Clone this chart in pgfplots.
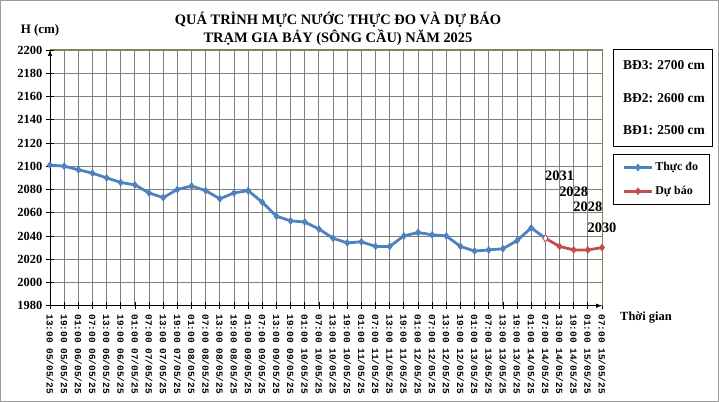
\documentclass[border=0pt]{standalone}
\usepackage{fontspec}
\setmainfont{Liberation Serif}
\setmonofont{Liberation Mono}
\usepackage{pgfplots}
\pgfplotsset{compat=1.18}
\definecolor{bl}{RGB}{79,129,189}
\definecolor{rd}{RGB}{192,80,77}
\definecolor{ol}{RGB}{140,128,80}
\definecolor{gr}{RGB}{128,128,128}
\begin{document}
\begin{tikzpicture}
\draw[gr!80, line width=1bp] (0.5bp,0.5bp) rectangle (718.5bp,401.5bp);
\begin{axis}[
  at={(50bp,96.3bp)}, anchor=south west,
  scale only axis, width=552bp, height=255.7bp,
  xmin=0, xmax=39, ymin=1980, ymax=2200,
  axis lines=left,
  axis line style={line width=1bp, -latex},
  grid=major,
  major grid style={gr, line width=0.9bp},
  tick align=center,
  major tick length=7bp,
  tick style={black, line width=0.8bp},
  xtick={0,...,39},
  ytick={1980,2000,...,2200},
  /pgf/number format/assume math mode=true,
  /pgf/number format/set thousands separator={},
  yticklabel style={font=\bfseries\fontsize{12.5}{12}\selectfont, inner xsep=4bp},
  xticklabel style={rotate=-90, anchor=west, font=\ttfamily\bfseries\fontsize{9.5}{10}\selectfont, inner xsep=5bp},
  xticklabels={13:00 05/05/25,19:00 05/05/25,01:00 06/05/25,07:00 06/05/25,13:00 06/05/25,19:00 06/05/25,01:00 07/05/25,07:00 07/05/25,13:00 07/05/25,19:00 07/05/25,01:00 08/05/25,07:00 08/05/25,13:00 08/05/25,19:00 08/05/25,01:00 09/05/25,07:00 09/05/25,13:00 09/05/25,19:00 09/05/25,01:00 10/05/25,07:00 10/05/25,13:00 10/05/25,19:00 10/05/25,01:00 11/05/25,07:00 11/05/25,13:00 11/05/25,19:00 11/05/25,01:00 12/05/25,07:00 12/05/25,13:00 12/05/25,19:00 12/05/25,01:00 13/05/25,07:00 13/05/25,13:00 13/05/25,19:00 13/05/25,01:00 14/05/25,07:00 14/05/25,13:00 14/05/25,19:00 14/05/25,01:00 15/05/25,07:00 15/05/25},
  clip=false,
  legend style={at={(rel axis cs:1.02,0.593)}, anchor=north west, draw=black, line width=1bp,
     font=\bfseries\fontsize{12}{14}\selectfont, inner xsep=9bp, inner ysep=6bp, row sep=10bp},
  legend cell align=left,
  legend image code/.code={\draw[mark repeat=2,mark phase=2,#1] plot coordinates {(0bp,0bp)(14bp,0bp)(28bp,0bp)};},
]
\addplot[bl, line width=2.8bp, mark=diamond*, mark size=3.5bp, mark options={line width=0.5bp}] coordinates {
(0,2101)(1,2100)(2,2097)(3,2094)(4,2090)(5,2086)(6,2084)(7,2077)(8,2073)(9,2080)
(10,2083)(11,2079)(12,2072)(13,2077)(14,2079)(15,2069)(16,2057)(17,2053)(18,2052)(19,2046)
(20,2038)(21,2034)(22,2035)(23,2031)(24,2031)(25,2040)(26,2043)(27,2041)(28,2040)(29,2031)
(30,2027)(31,2028)(32,2029)(33,2036)(34,2047)(35,2038)};
\addlegendentry{Thực đo}
\addplot[rd, line width=2.8bp, mark=diamond*, mark size=3.5bp, mark options={line width=0.5bp}] coordinates {
(35,2038)(36,2031)(37,2028)(38,2028)(39,2030)};
\addlegendentry{Dự báo}
\addplot[forget plot, only marks, mark=diamond*, mark size=3.5bp, mark options={fill=white, draw=rd, line width=0.8bp}] coordinates {(35,2038)};
\draw[ol, line width=1bp] (rel axis cs:0,1) -- (rel axis cs:1,1) -- (rel axis cs:1,0);
\node[font=\bfseries\fontsize{14.5}{14}\selectfont] at (axis cs:36,2092) {2031};
\node[font=\bfseries\fontsize{14.5}{14}\selectfont] at (axis cs:37,2078) {2028};
\node[font=\bfseries\fontsize{14.5}{14}\selectfont] at (axis cs:38,2065) {2028};
\node[font=\bfseries\fontsize{14.5}{14}\selectfont] at (axis cs:39,2047) {2030};
\end{axis}
\node[font=\bfseries\fontsize{14.5}{18}\selectfont, align=center] at (338bp,373bp) {QUÁ TRÌNH MỰC NƯỚC THỰC ĐO VÀ DỰ BÁO\\TRẠM GIA BẢY (SÔNG CẦU) NĂM 2025};
\node[font=\bfseries\fontsize{13}{14}\selectfont] at (40bp,372bp) {H (cm)};
\node[font=\bfseries\fontsize{12.5}{14}\selectfont] at (646bp,84bp) {Thời gian};
\draw[black, line width=1bp] (613bp,255bp) rectangle (712bp,352bp);
\node[font=\bfseries\fontsize{13.5}{14}\selectfont] at (664bp,337bp) {BĐ3: 2700 cm};
\node[font=\bfseries\fontsize{13.5}{14}\selectfont] at (664bp,304bp) {BĐ2: 2600 cm};
\node[font=\bfseries\fontsize{13.5}{14}\selectfont] at (664bp,272bp) {BĐ1: 2500 cm};
\end{tikzpicture}
\end{document}
